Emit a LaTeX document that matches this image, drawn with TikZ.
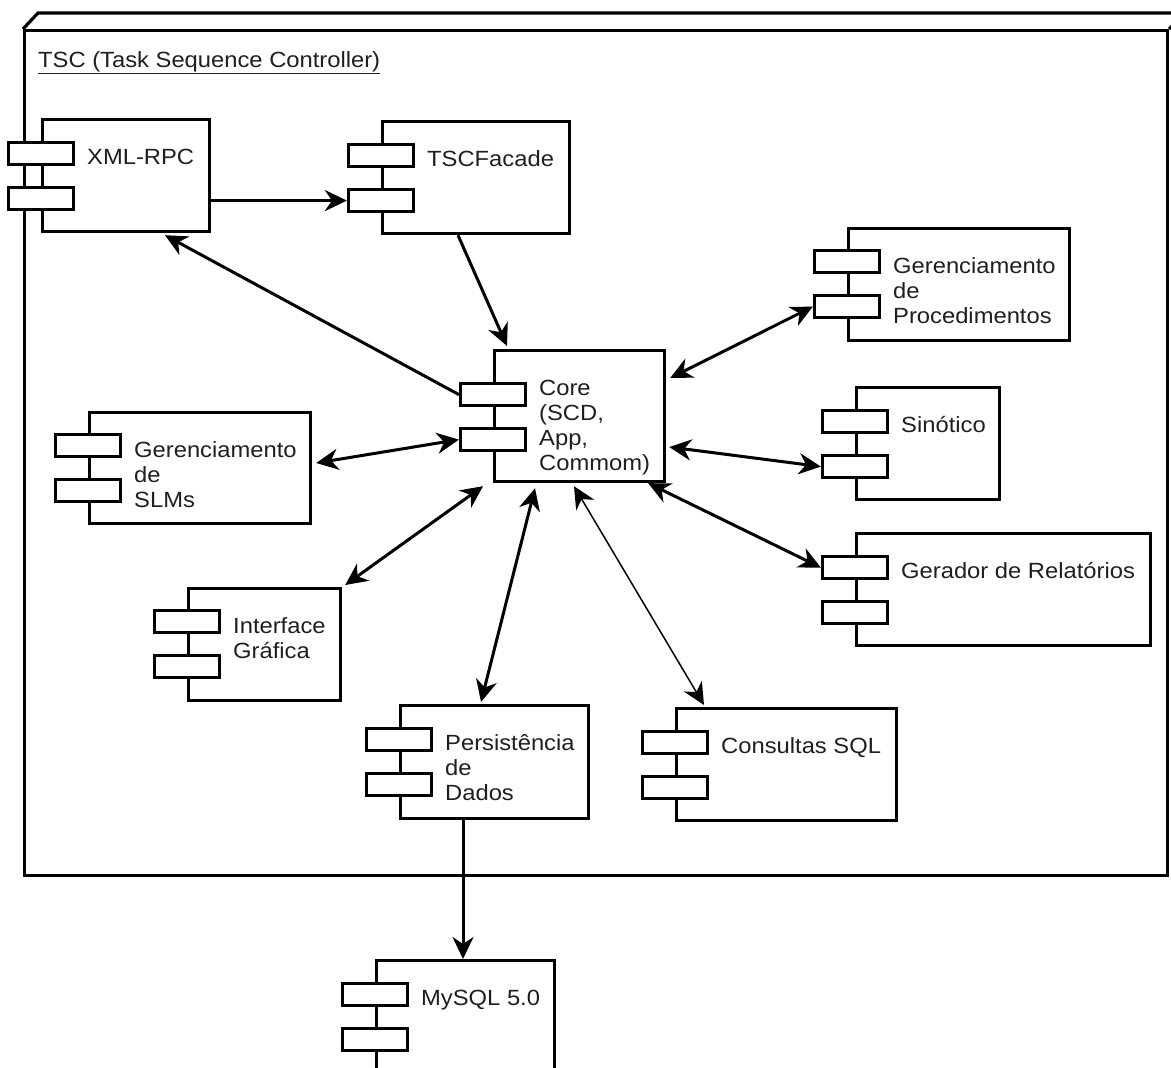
\documentclass[tikz,border=0pt]{standalone}
\usepackage{fontspec}
\setmainfont{Liberation Sans}[FakeStretch=1.08]
\usetikzlibrary{arrows.meta,calc}
\definecolor{ink}{RGB}{30,30,38}

% UML component: name, left x of body, top y, width, height, first tab offset, label
\newcommand\umlcomp[7]{%
  \node[body, anchor=north west, minimum width=#4pt, minimum height=#5pt] (#1) at (#2,#3) {};
  \node[tabbox, anchor=north] (#1T1) at ($(#1.north west)+(0,#6)$) {};
  \node[tabbox, anchor=north] (#1T2) at ($(#1.north west)+(0,#6+45)$) {};
  \node[lbl] (#1L) at ($(#1.north west)+(46,46)$) {\begin{tabular}[t]{@{}l@{}}#7\end{tabular}};
}

\begin{document}
\begin{tikzpicture}[x=1pt,y=-1pt,
  outline/.style={draw=black, line width=3.2pt},
  body/.style={outline, fill=white, rectangle, inner sep=0pt},
  tabbox/.style={outline, fill=white, rectangle, inner sep=0pt, minimum width=65pt, minimum height=22pt},
  lbl/.style={anchor=base west, inner sep=0pt, text=ink, font=\fontsize{22}{25}\selectfont},
  link/.style={draw=black, line width=3pt, >={Stealth[length=22pt,width=21pt,inset=7pt]}},
  thinlink/.style={draw=black, line width=1.5pt, >={Stealth[length=22pt,width=21pt,inset=7pt]}},
]
\useasboundingbox (0,0) rectangle (1171,1068);

% enclosing node (3D box)
\node[body, anchor=north west, minimum width=1143pt, minimum height=845pt] (tsc) at (23,29) {};
\draw[outline, line join=miter] (tsc.north west) -- ++(15,-16) -- (1190,13);
\draw[outline] (tsc.north east) -- ++(15,-16);
\node[lbl] (tscL) at (38,67) {\underline{TSC (Task Sequence Controller)}};

% components
\umlcomp{xml}{41}{118}{167}{112}{23}{XML-RPC}
\umlcomp{facade}{381}{120}{187}{112}{23}{TSCFacade}
\umlcomp{proc}{847}{227}{221}{112}{22}{Gerenciamento\\de\\Procedimentos}
\umlcomp{core}{493}{349}{170}{131}{33}{Core\\(SCD,\\App,\\Commom)}
\umlcomp{sin}{855}{386}{143}{112}{23}{Sinótico}
\umlcomp{slm}{88}{411}{221}{111}{22}{Gerenciamento\\de\\SLMs}
\umlcomp{ger}{855}{532}{294}{112}{23}{Gerador de Relatórios}
\umlcomp{gui}{187}{587}{152}{112}{22}{Interface\\Gráfica}
\umlcomp{pers}{399}{704}{188}{113}{23}{Persistência\\de\\Dados}
\umlcomp{sql}{675}{707}{220}{112}{23}{Consultas SQL}
\umlcomp{mysql}{375}{959}{178}{140}{23}{MySQL 5.0}

% connectors
\draw[link,->] (xml.east |- facadeT2.west) -- (facadeT2.west);
\draw[link,->] ($(facade.south west)+(77,0)$) -- ($(core.north west)+(14,-3)$);
\draw[link,->] (coreT1.west) -- ($(xml.south west)+(124,2)$);
\draw[link,<->] ($(core.north east)+(4,29)$) -- (procT2.west);
\draw[link,<->] ($(core.north east)+(3,98)$) -- (sinT2.west);
\draw[link,<->] ($(slm.north east)+(4,52)$) -- (coreT2.west);
\draw[link,<->] ($(core.south east)+(-18,0)$) -- (gerT1.west);
\draw[link,<->] ($(core.south west)+(-10,3)$) -- ($(gui.north east)+(3,-2)$);
\draw[link,<->] ($(core.south west)+(42,5)$) -- ($(pers.north west)+(82,-2)$);
\draw[thinlink,<->] ($(core.south west)+(81,3)$) -- ($(sql.north west)+(29,-2)$);
\coordinate (persOut) at ($(pers.south west)+(64,0)$);
\draw[link,->] (persOut) -- (persOut |- mysql.north);
\end{tikzpicture}
\end{document}
